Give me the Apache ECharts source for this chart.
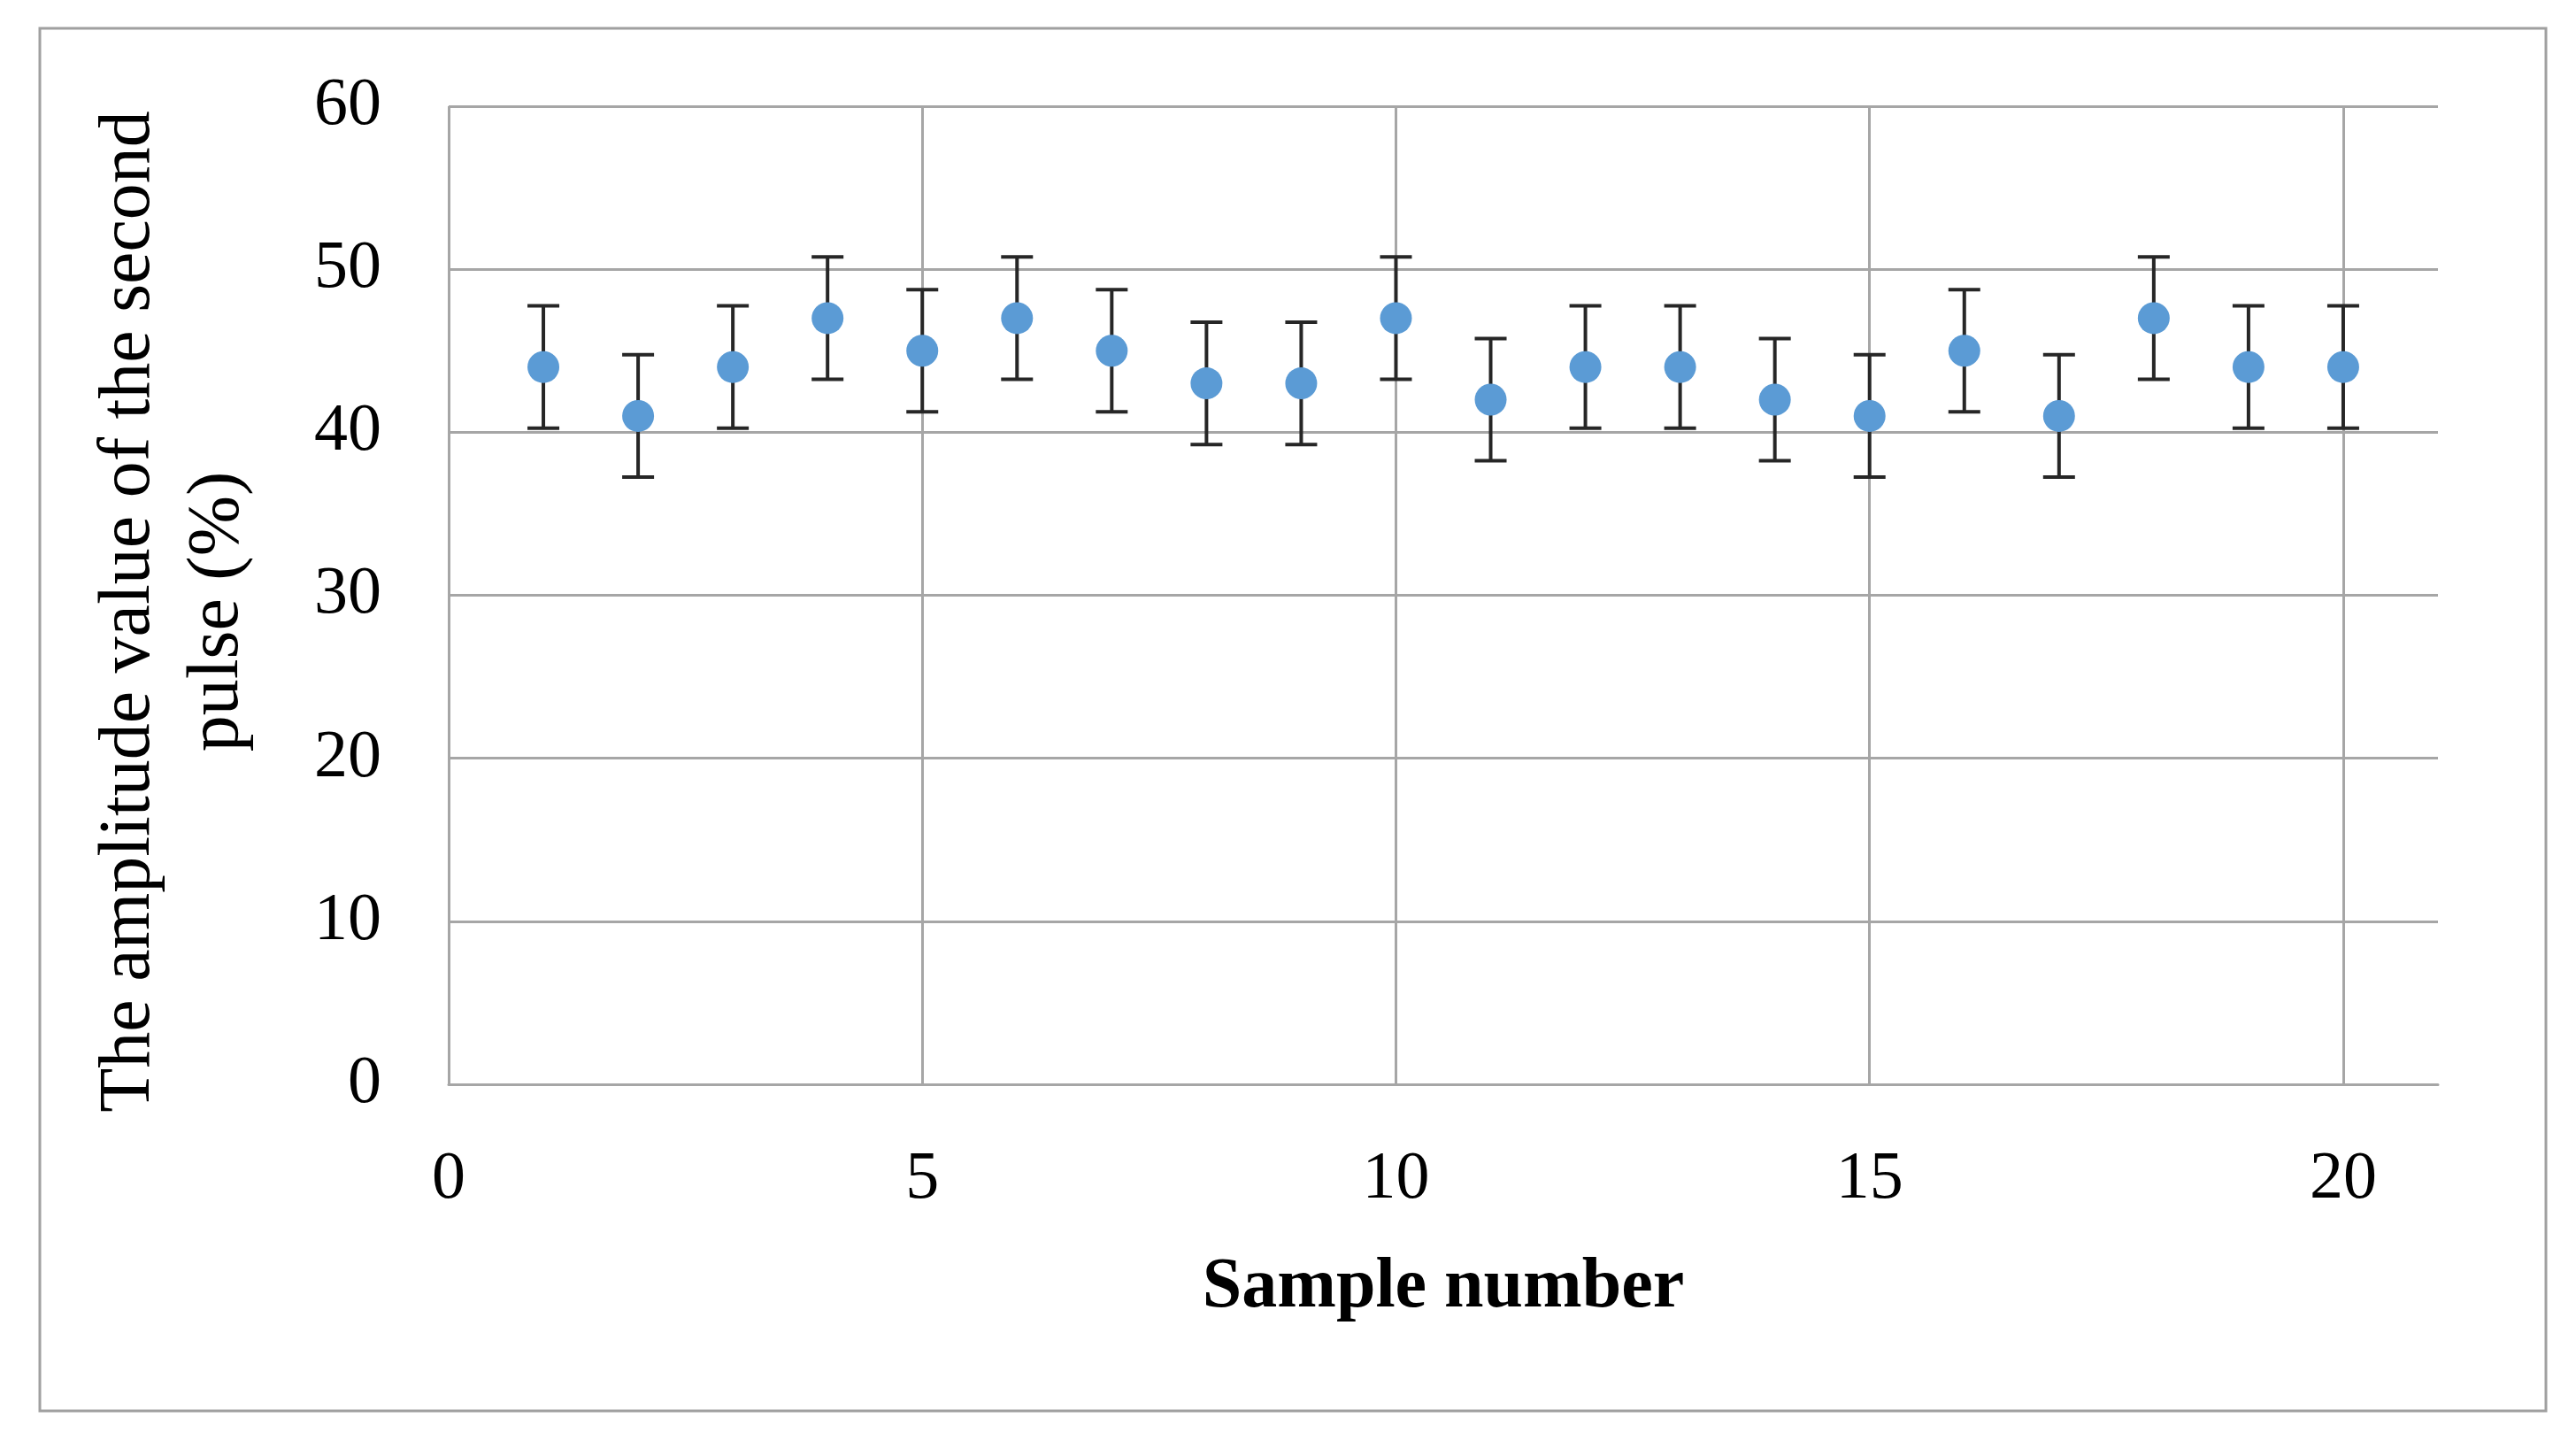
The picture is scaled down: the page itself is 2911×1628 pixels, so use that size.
<!DOCTYPE html>
<html>
<head>
<meta charset="utf-8">
<script src="https://cdn.jsdelivr.net/npm/echarts@6/dist/echarts.min.js"></script>
<style>
html,body{margin:0;padding:0;background:#fff;}
#chart{width:2911px;height:1628px;}
</style>
</head>
<body>
<div id="chart"></div>
<script>
const samples = [1,2,3,4,5,6,7,8,9,10,11,12,13,14,15,16,17,18,19,20];
const amplitude = [44,41,44,47,45,47,45,43,43,47,42,44,44,42,41,45,41,47,44,44];
const errLow  = [40.25,37.25,40.25,43.25,41.25,43.25,41.25,39.25,39.25,43.25,38.25,40.25,40.25,38.25,37.25,41.25,37.25,43.25,40.25,40.25];
const errHigh = [47.75,44.75,47.75,50.75,48.75,50.75,48.75,46.75,46.75,50.75,45.75,47.75,47.75,45.75,44.75,48.75,44.75,50.75,47.75,47.75];
const xTicks = [0,5,10,15,20];
const yTicks = [0,10,20,30,40,50,60];
const xTitle = 'Sample number';
const yTitle = 'The amplitude value of the second\npulse (%)';

const FONT = '"Liberation Serif", "DejaVu Serif", serif';
const GRID = '#a6a6a6';

const chart = echarts.init(document.getElementById('chart'));
const pointData = samples.map((s, i) => [s, amplitude[i]]);
const errData = samples.map((s, i) => [s, errLow[i], errHigh[i]]);

chart.setOption({
  animation: false,
  backgroundColor: '#ffffff',
  grid: { left: 507, top: 120, width: 2248, height: 1105, containLabel: false },
  xAxis: {
    type: 'value', min: 0, max: 21, interval: 5,
    axisLine: { show: true, lineStyle: { color: GRID, width: 3 } },
    axisTick: { show: false },
    axisLabel: {
      margin: 70, color: '#000', fontFamily: FONT, fontSize: 76,
      showMaxLabel: false,
      formatter: v => (xTicks.indexOf(v) >= 0 ? String(v) : '')
    },
    splitLine: { show: true, showMaxLine: false, lineStyle: { color: GRID, width: 3 } }
  },
  yAxis: {
    type: 'value', min: 0, max: 60, interval: 10,
    axisLine: { show: false },
    axisTick: { show: false },
    axisLabel: {
      margin: 76, color: '#000', fontFamily: FONT, fontSize: 76,
      formatter: v => (yTicks.indexOf(v) >= 0 ? String(v) : '')
    },
    splitLine: { show: true, lineStyle: { color: GRID, width: 3 } }
  },
  graphic: [
    {
      type: 'rect', silent: true, z: -1,
      shape: { x: 45, y: 32, width: 2832, height: 1562 },
      style: { fill: 'none', stroke: '#a0a0a0', lineWidth: 3 }
    },
    {
      type: 'text', x: 1631, y: 1455,
      style: { text: xTitle, fontFamily: FONT, fontSize: 80, fontWeight: 'bold', fill: '#000', align: 'center', verticalAlign: 'middle' }
    },
    {
      type: 'text', x: 196, y: 691, rotation: Math.PI / 2,
      style: { text: yTitle, fontFamily: FONT, fontSize: 82, lineHeight: 100, fill: '#000', align: 'center', verticalAlign: 'middle' }
    }
  ],
  series: [
    {
      type: 'custom',
      data: errData,
      z: 2,
      renderItem: function (params, api) {
        const x = api.value(0);
        const lo = api.coord([x, api.value(1)]);
        const hi = api.coord([x, api.value(2)]);
        const hw = 18;
        const st = { stroke: '#262626', lineWidth: 4 };
        return {
          type: 'group',
          children: [
            { type: 'line', shape: { x1: lo[0], y1: lo[1], x2: hi[0], y2: hi[1] }, style: st },
            { type: 'line', shape: { x1: hi[0] - hw, y1: hi[1], x2: hi[0] + hw, y2: hi[1] }, style: st },
            { type: 'line', shape: { x1: lo[0] - hw, y1: lo[1], x2: lo[0] + hw, y2: lo[1] }, style: st }
          ]
        };
      }
    },
    {
      type: 'scatter',
      data: pointData,
      symbol: 'circle',
      symbolSize: 36,
      z: 3,
      itemStyle: { color: '#5B9BD5', opacity: 1 }
    }
  ]
});
</script>
</body>
</html>
